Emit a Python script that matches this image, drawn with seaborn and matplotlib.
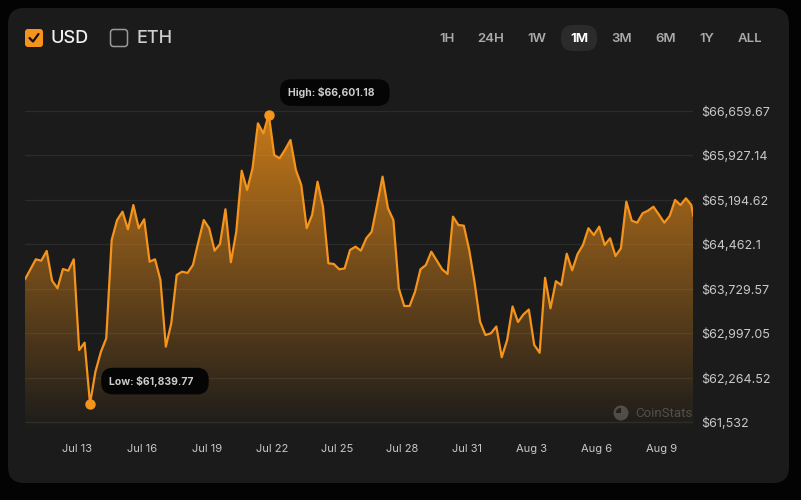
import numpy as np
import pandas as pd
import matplotlib
matplotlib.use("Agg")
import matplotlib.pyplot as plt
import matplotlib.dates as mdates
from matplotlib.patches import FancyBboxPatch, Circle, Wedge
import seaborn as sns

# ---------------- data ----------------
start_time = "2024-07-10 14:45"
step_hours = 6
last_time = "2024-08-10 10:55"

prices = [
    63888, 64052, 64217, 64194, 64354, 63865, 63740, 64057, 64029, 64217,
    62723, 62844, 61839.77, 62366, 62690, 62916, 64535, 64864, 65001, 64711,
    65111, 64728, 64876, 64178, 64217, 63876, 62778, 63163, 63959, 64013,
    63992, 64123, 64502, 64864, 64728, 64359, 64469, 65041, 64168, 64672,
    65676, 65359, 65716, 66457, 66292, 66601.18, 65935, 65881, 66022, 66182,
    65688, 65441, 64728, 64947, 65495, 65083, 64151, 64140, 64052, 64066,
    64370, 64425, 64359, 64563, 64672, 65116, 65578, 65057, 64864, 63740,
    63448, 63448, 63684, 64052, 64123, 64342, 64197, 64052, 63975, 64919,
    64782, 64771, 64370, 63827, 63189, 62970, 62998, 63110, 62603, 62888,
    63440, 63184, 63308, 63389, 62806, 62677, 63912, 63410, 63856, 63791,
    64309, 64036, 64304, 64453, 64728, 64617, 64754, 64453, 64563, 64271,
    64398, 65166, 64853, 64820, 64975, 65018, 65083, 64955, 64820, 64930,
    65194, 65111, 65222, 65111, 64930,
]

ytick_values = [61532, 62264.52, 62997.05, 63729.57, 64462.1, 65194.62, 65927.14, 66659.67]
ytick_labels = ["$61,532", "$62,264.52", "$62,997.05", "$63,729.57",
                "$64,462.1", "$65,194.62", "$65,927.14", "$66,659.67"]

xtick_dates = ["2024-07-13", "2024-07-16", "2024-07-19", "2024-07-22", "2024-07-25",
               "2024-07-28", "2024-07-31", "2024-08-03", "2024-08-06", "2024-08-09"]
xtick_labels = ["Jul 13", "Jul 16", "Jul 19", "Jul 22", "Jul 25",
                "Jul 28", "Jul 31", "Aug 3", "Aug 6", "Aug 9"]

currencies = ["USD", "ETH"]
ranges = ["1H", "24H", "1W", "1M", "3M", "6M", "1Y", "ALL"]
active_range = "1M"

# ---------------- build frame ----------------
times = list(pd.date_range(start_time, periods=len(prices) - 1, freq=f"{step_hours}h"))
times.append(pd.Timestamp(last_time))
df = pd.DataFrame({"time": times, "price": prices})

# ---------------- style ----------------
sns.set_style("dark")
plt.rcParams["font.family"] = ["Inter", "DejaVu Sans"]

ORANGE = "#f5941c"
CARD = "#1b1b1b"
OUTER = "#030303"
GRID = "#2b2b2b"
TXT = "#c9c9c9"

W, H = 801, 500
fig = plt.figure(figsize=(W / 100, H / 100), dpi=100, facecolor=OUTER)

# background axes in pixel coords
bg = fig.add_axes([0, 0, 1, 1])
bg.set_xlim(0, W)
bg.set_ylim(H, 0)
bg.axis("off")
bg.set_facecolor(OUTER)
bg.add_patch(FancyBboxPatch((8, 8), 781, 475, boxstyle="round,pad=0,rounding_size=16",
                            fc=CARD, ec="none"))

# currency checkboxes
bg.add_patch(FancyBboxPatch((25, 29), 18, 18, boxstyle="round,pad=0,rounding_size=3",
                            fc=ORANGE, ec="none"))
bg.plot([29.5, 33, 38.5], [38, 41.5, 34], color="#111111", lw=1.6,
        solid_capstyle="round", solid_joinstyle="round")
bg.text(51, 38.5, currencies[0], color="#f2f2f2", fontsize=13, fontweight="medium",
        va="center", ha="left")
bg.add_patch(FancyBboxPatch((110.5, 29.5), 17, 17, boxstyle="round,pad=0,rounding_size=3",
                            fc="none", ec="#9a9a9a", lw=1.1))
bg.text(137, 38.5, currencies[1], color="#cfcfcf", fontsize=13, fontweight="medium",
        va="center", ha="left")

# range buttons
range_x = [447, 491, 537, 579, 622, 666, 707, 750]
for lab, cx in zip(ranges, range_x):
    if lab == active_range:
        bg.add_patch(FancyBboxPatch((561, 25), 36, 26, boxstyle="round,pad=0,rounding_size=12",
                                    fc="#2b2b2b", ec="none"))
        bg.text(cx, 38.5, lab, color="#ffffff", fontsize=9.5, fontweight="bold",
                ha="center", va="center")
    else:
        bg.text(cx, 38.5, lab, color="#aaaaaa", fontsize=9.5, fontweight="semibold",
                ha="center", va="center")

# watermark
bg.add_patch(Circle((621, 413), 7.5, fc="#4a4a4a", ec="none"))
bg.add_patch(Wedge((621, 413), 5.2, 180, 270, fc=CARD, ec="none"))
bg.text(635, 413.5, "CoinStats", color="#4c4c4c", fontsize=9.5, ha="left", va="center",
        family=["Roboto", "DejaVu Sans"])

# ---------------- main chart ----------------
ax_left, ax_right = 25, 693.3
ax_top, ax_bottom = 90, 432
ax = fig.add_axes([ax_left / W, (H - ax_bottom) / H, (ax_right - ax_left) / W,
                   (ax_bottom - ax_top) / H])
ax.set_facecolor("none")

px_per_dollar = (422.3 - 111) / (ytick_values[-1] - ytick_values[0])
y_low = ytick_values[0] - (ax_bottom - 422.3) / px_per_dollar
y_high = ytick_values[-1] + (111 - ax_top) / px_per_dollar
ax.set_ylim(y_low, y_high)

x0 = mdates.date2num(df["time"].iloc[0])
x1 = mdates.date2num(df["time"].iloc[-1])
ax.set_xlim(x0, x1)

for yv in ytick_values:
    ax.axhline(yv, color=GRID, lw=0.9, zorder=0)

# gradient fill
poly = ax.fill_between(df["time"], df["price"], y_low, facecolor="none", edgecolor="none")
n = 256
alpha = np.linspace(0.0, 0.85, n)
grad = np.zeros((n, 1, 4))
grad[:, 0, 0] = 0.96
grad[:, 0, 1] = 0.58
grad[:, 0, 2] = 0.10
grad[:, 0, 3] = alpha
im = ax.imshow(grad, extent=[x0, x1, y_low, y_high], origin="lower", aspect="auto", zorder=1)
im.set_clip_path(poly.get_paths()[0], transform=ax.transData)

sns.lineplot(data=df, x="time", y="price", ax=ax, color=ORANGE, lw=1.6, zorder=3)

# high / low markers
i_hi = int(np.argmax(prices))
i_lo = int(np.argmin(prices))
for i, label, dy in [(i_hi, f"High: ${prices[i_hi]:,.2f}", 22),
                     (i_lo, f"Low: ${prices[i_lo]:,.2f}", 22.5)]:
    ax.plot([df["time"].iloc[i]], [prices[i]], "o", color=ORANGE, ms=6.5, zorder=4)
    ax.annotate(label + "   ", xy=(mdates.date2num(df["time"].iloc[i]), prices[i]),
                xytext=(19, dy), textcoords="offset pixels", ha="left", va="center",
                fontsize=7.5, fontweight="bold", color="#cccccc", zorder=5,
                bbox=dict(boxstyle="round,pad=0.75,rounding_size=1.1", fc="#050505", ec="none"))

# axes ticks
ax.set_yticks(ytick_values)
ax.set_yticklabels(ytick_labels)
ax.yaxis.tick_right()
ax.tick_params(axis="y", length=0, pad=6, labelsize=9, labelcolor=TXT)
ax.set_xticks([mdates.date2num(pd.Timestamp(d)) for d in xtick_dates])
ax.set_xticklabels(xtick_labels)
ax.tick_params(axis="x", length=0, pad=8.5, labelsize=8, labelcolor=TXT)
ax.set_xlabel("")
ax.set_ylabel("")
ax.grid(False)
for s in ax.spines.values():
    s.set_visible(False)

fig.savefig("out.png", dpi=100, facecolor=OUTER)
